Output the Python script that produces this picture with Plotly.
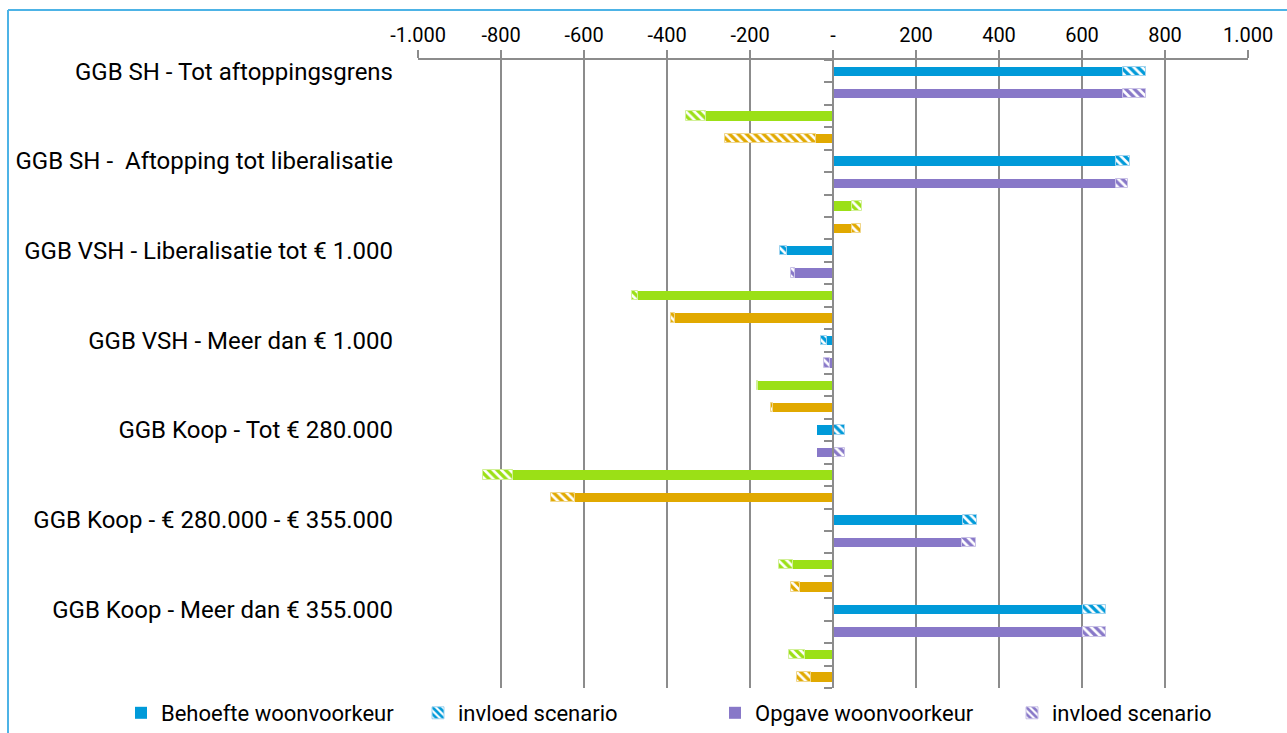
import plotly.graph_objects as go

groups = [
    "GGB SH - Tot aftoppingsgrens",
    "GGB SH -  Aftopping tot liberalisatie",
    "GGB VSH - Liberalisatie tot € 1.000",
    "GGB VSH - Meer dan € 1.000",
    "GGB Koop - Tot € 280.000",
    "GGB Koop - € 280.000 - € 355.000",
    "GGB Koop - Meer dan € 355.000",
]

blue_base = [698, 683, -112, -15, -39, 314, 603]
blue_scen = [55, 32, -16, -14, 30, 33, 54]
purple_base = [698, 683, -92, -7, -39, 312, 603]
purple_scen = [55, 29, -10, -15, 30, 33, 54]
green_base = [-306, 46, -470, -181, -772, -96, -67]
green_scen = [-48, 24, -15, -2, -71, -34, -39]
orange_base = [-41, 46, -381, -145, -622, -80, -54]
orange_scen = [-219, 22, -10, -5, -58, -22, -33]

x_tickvals = [-1000, -800, -600, -400, -200, 0, 200, 400, 600, 800, 1000]
x_ticktext = ["-1.000", "-800", "-600", "-400", "-200", "-", "200", "400", "600", "800", "1.000"]

series = [
    ("Behoefte woonvoorkeur", "invloed scenario", blue_base, blue_scen, "#009ad9", "#9fd3ef", True),
    ("Opgave woonvoorkeur", "invloed scenario", purple_base, purple_scen, "#8878c8", "#c9c1e6", True),
    ("", "", green_base, green_scen, "#9be016", "#d2f098", False),
    ("", "", orange_base, orange_scen, "#e1a900", "#f0d68a", False),
]

FONT = "Roboto, Liberation Sans, sans-serif"

fig = go.Figure()
n = len(groups)
for k, (name_b, name_s, base, scen, col, light, show) in enumerate(series):
    ypos = [g * 4 + k for g in range(n)]
    fig.add_trace(go.Bar(
        x=base, y=ypos, orientation="h", name=name_b, showlegend=show,
        marker=dict(color=col, line=dict(width=0)), width=0.42,
        legendrank=1 + 2 * k,
    ))
    fig.add_trace(go.Bar(
        x=scen, y=ypos, orientation="h", name=name_s, showlegend=show,
        marker=dict(color="white", line=dict(width=1, color=light),
                    pattern=dict(shape="\\", fgcolor=col, bgcolor="white",
                                 size=6, solidity=0.55, fillmode="replace", fgopacity=1)),
        width=0.42, legendrank=2 + 2 * k,
    ))

W, H = 1287, 733
L, R, T, B = 418, 1248, 60, 688

pw, ph = R - L, B - T
def px_x(p):
    return (p - L) / pw
def px_y(p):
    return (B - p) / ph

fig.update_layout(
    width=W, height=H,
    margin=dict(l=L, r=W - R, t=T, b=H - B, autoexpand=False),
    barmode="relative",
    plot_bgcolor="white", paper_bgcolor="white",
    font=dict(family=FONT, color="black"),
    bargap=0,
    xaxis=dict(
        side="top", range=[-1000, 1000], tickvals=x_tickvals, ticktext=x_ticktext,
        showgrid=True, gridcolor="#8c8c8c", gridwidth=1.5,
        showline=True, linecolor="#8c8c8c", linewidth=1.5,
        ticks="outside", ticklen=8, tickcolor="#8c8c8c", tickwidth=1.5,
        tickfont=dict(size=20), zeroline=False, fixedrange=True,
    ),
    yaxis=dict(
        range=[4 * n - 0.5, -0.5], tickvals=[g * 4 for g in range(n)], ticktext=groups,
        showgrid=False, zeroline=False, showline=False, ticks="",
        tickfont=dict(size=24), ticklabelstandoff=24,
    ),
    yaxis2=dict(
        overlaying="y", anchor="free", position=0.5, side="left",
        range=[4 * n - 0.5, -0.5],
        tickvals=[i + 0.5 for i in range(-1, 4 * n)], showticklabels=False,
        ticks="outside", ticklen=8, tickcolor="#8c8c8c", tickwidth=1.5,
        showline=True, linecolor="#8c8c8c", linewidth=1.5,
        showgrid=False, zeroline=False,
    ),
    legend=dict(
        orientation="h", x=px_x(121), xanchor="left", y=px_y(713), yanchor="middle",
        font=dict(size=22), entrywidth=252, entrywidthmode="pixels",
        traceorder="normal", itemwidth=30, bgcolor="rgba(0,0,0,0)",
    ),
    showlegend=True,
)

fig.add_trace(go.Scatter(x=[0], y=[0], yaxis="y2", mode="markers",
                         marker=dict(opacity=0), showlegend=False, hoverinfo="skip"))

# light blue chart border (left and top)
fig.add_shape(type="line", xref="paper", yref="paper",
              x0=px_x(8), x1=px_x(W + 5), y0=px_y(10), y1=px_y(10),
              line=dict(color="#4db3e6", width=2))
fig.add_shape(type="line", xref="paper", yref="paper",
              x0=px_x(8), x1=px_x(8), y0=px_y(10), y1=px_y(H + 5),
              line=dict(color="#4db3e6", width=2))

fig.write_html("out.html", config={"displayModeBar": False},
               post_script="document.body.style.margin='0px';document.body.style.padding='0px';")
